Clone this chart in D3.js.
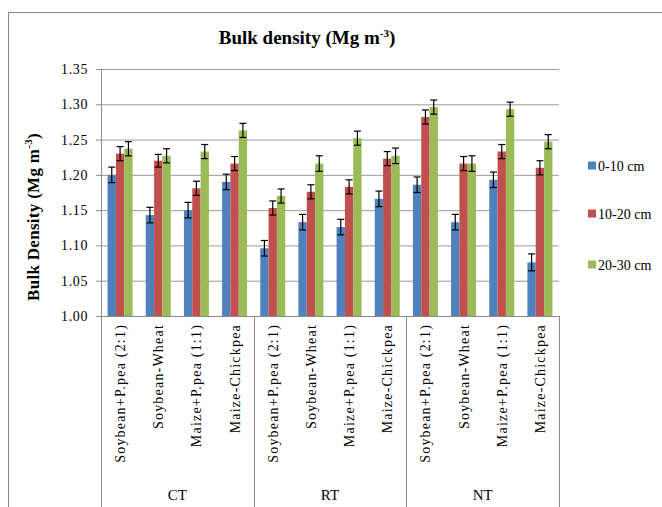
<!DOCTYPE html>
<html>
<head>
<meta charset="utf-8">
<script src="https://cdn.jsdelivr.net/npm/d3@7"></script>
<style>
  body { margin: 0; background: #fff; }
  svg text { font-family: 'Liberation Serif', 'Times New Roman', Tinos, 'DejaVu Serif', serif; fill: #000; }
</style>
</head>
<body>
<svg id="chart" width="662" height="507"></svg>
<script>
const systems = ['CT', 'RT', 'NT'];
const crops = ['Soybean+P.pea (2:1)', 'Soybean-Wheat', 'Maize+P.pea (1:1)', 'Maize-Chickpea'];
const depths = ['0-10 cm', '10-20 cm', '20-30 cm'];
const yTicks = [1.00, 1.05, 1.10, 1.15, 1.20, 1.25, 1.30, 1.35];

// values per depth, in order CT x4, RT x4, NT x4
const depth0to10 = [1.200, 1.143, 1.150, 1.190, 1.096, 1.133, 1.126, 1.166, 1.186, 1.133, 1.193, 1.076];
const depth10to20 = [1.230, 1.220, 1.181, 1.216, 1.153, 1.176, 1.183, 1.223, 1.282, 1.216, 1.233, 1.210];
const depth20to30 = [1.237, 1.227, 1.233, 1.263, 1.170, 1.216, 1.252, 1.227, 1.296, 1.216, 1.293, 1.247];
const err0to10 = [0.011, 0.011, 0.011, 0.011, 0.011, 0.011, 0.011, 0.011, 0.011, 0.011, 0.011, 0.012];
const err10to20 = [0.010, 0.009, 0.010, 0.010, 0.010, 0.010, 0.010, 0.010, 0.010, 0.010, 0.010, 0.010];
const err20to30 = [0.010, 0.010, 0.010, 0.010, 0.010, 0.011, 0.010, 0.011, 0.010, 0.011, 0.010, 0.010];

const colors = ['#4F81BD', '#C0504D', '#9BBB59'];
const series = [depth0to10, depth10to20, depth20to30];
const errors = [err0to10, err10to20, err20to30];

const serif = "'Liberation Serif', 'Times New Roman', Tinos, 'DejaVu Serif', serif";
const plot = { left: 101, right: 559, top: 69, bottom: 316 };
const svg = d3.select('#chart');

// outer chart border
svg.append('path')
    .attr('d', 'M8.5,520 V12.5 H670')
    .attr('fill', 'none')
    .attr('stroke', '#888');

// build flat category list
const cats = [];
systems.forEach((s) => crops.forEach((c) => cats.push(s + '|' + c)));

const x = d3.scaleBand().domain(cats).range([plot.left, plot.right]).padding(0);
const xInner = d3.scaleBand().domain(depths).range([0, 25]);
const y = d3.scaleLinear().domain([1.0, 1.35]).range([plot.bottom, plot.top]);

// gridlines
svg.append('g')
    .attr('transform', 'translate(' + plot.left + ',0)')
    .call(d3.axisLeft(y).tickValues(yTicks).tickSize(-(plot.right - plot.left)).tickFormat(''))
    .call((g) => g.select('.domain').remove())
    .call((g) => g.selectAll('line').attr('stroke', '#9a9a9a'));

// y axis
svg.append('g')
    .attr('transform', 'translate(' + plot.left + ',0)')
    .call(d3.axisLeft(y).tickValues(yTicks).tickSize(5).tickPadding(8).tickFormat(d3.format('.2f')))
    .attr('font-family', serif)
    .attr('font-size', 14)
    .call((g) => g.select('.domain').attr('stroke', '#8c8c8c'))
    .call((g) => g.selectAll('line').attr('stroke', '#8c8c8c'))
    .call((g) => g.selectAll('text').attr('fill', '#000').style('letter-spacing', '0.6px'));

// bars
const barData = [];
series.forEach((vals, si) => vals.forEach((v, i) => barData.push({ cat: cats[i], depth: depths[si], v: v, e: errors[si][i], si: si })));
const off = (x.bandwidth() - 25) / 2;

svg.append('g').selectAll('rect')
    .data(barData)
    .enter()
    .append('rect')
    .attr('x', (d) => x(d.cat) + off + xInner(d.depth))
    .attr('y', (d) => y(d.v))
    .attr('width', xInner.bandwidth())
    .attr('height', (d) => y(1.0) - y(d.v))
    .attr('fill', (d) => colors[d.si]);

// error bars
const eb = svg.append('g').attr('stroke', '#000').attr('stroke-width', 1.2);
barData.forEach((d) => {
    const cx = x(d.cat) + off + xInner(d.depth) + xInner.bandwidth() / 2;
    eb.append('line').attr('x1', cx).attr('x2', cx).attr('y1', y(d.v + d.e)).attr('y2', y(d.v - d.e));
    eb.append('line').attr('x1', cx - 3.5).attr('x2', cx + 3.5).attr('y1', y(d.v + d.e)).attr('y2', y(d.v + d.e));
    eb.append('line').attr('x1', cx - 3.5).attr('x2', cx + 3.5).attr('y1', y(d.v - d.e)).attr('y2', y(d.v - d.e));
});

// x axis baseline and group dividers
svg.append('line')
    .attr('x1', plot.left).attr('x2', plot.right)
    .attr('y1', plot.bottom + 0.5).attr('y2', plot.bottom + 0.5)
    .attr('stroke', '#8c8c8c');
const groupEdges = systems.map((s) => x(s + '|' + crops[0])).concat([plot.right]);
svg.append('g').selectAll('line')
    .data(groupEdges)
    .enter()
    .append('line')
    .attr('x1', (d) => Math.round(d) + 0.5).attr('x2', (d) => Math.round(d) + 0.5)
    .attr('y1', plot.bottom).attr('y2', 507)
    .attr('stroke', '#8c8c8c');

// category labels
svg.append('g').selectAll('text')
    .data(cats)
    .enter()
    .append('text')
    .attr('transform', (d) => 'translate(' + (x(d) + x.bandwidth() / 2 + 5) + ',' + (plot.bottom + 8) + ') rotate(-90)')
    .attr('text-anchor', 'end')
    .attr('font-family', serif)
    .style('font-size', '14px')
    .style('letter-spacing', '1.2px')
    .text((d) => d.split('|')[1]);

// system labels
svg.append('g').selectAll('text')
    .data(systems)
    .enter()
    .append('text')
    .attr('x', (d) => x(d + '|' + crops[1]) + x.bandwidth())
    .attr('y', 500)
    .attr('text-anchor', 'middle')
    .attr('font-family', serif)
    .style('font-size', '15px')
    .text((d) => d);

// title
const title = svg.append('text')
    .attr('x', 307)
    .attr('y', 44)
    .attr('text-anchor', 'middle')
    .attr('font-family', serif)
    .style('font-size', '19px')
    .style('font-weight', 'bold');
title.append('tspan').text('Bulk density (Mg m');
title.append('tspan').attr('dy', -7).style('font-size', '11px').text('-3');
title.append('tspan').attr('dy', 7).text(')');

// y axis title
const yTitle = svg.append('text')
    .attr('transform', 'translate(39,217) rotate(-90)')
    .attr('text-anchor', 'middle')
    .attr('font-family', serif)
    .style('font-size', '17px')
    .style('font-weight', 'bold')
    .style('letter-spacing', '0.3px');
yTitle.append('tspan').text('Bulk Density (Mg m');
yTitle.append('tspan').attr('dy', -7).style('font-size', '11px').text('-3');
yTitle.append('tspan').attr('dy', 7).text(')');

// legend
const legendY = [166, 214, 265];
const legend = svg.append('g').selectAll('g')
    .data(depths)
    .enter()
    .append('g')
    .attr('transform', (d, i) => 'translate(588,' + legendY[i] + ')');
legend.append('rect')
    .attr('x', 0).attr('y', -4.5)
    .attr('width', 8).attr('height', 8)
    .attr('fill', (d, i) => colors[i]);
legend.append('text')
    .attr('x', 10).attr('y', 5)
    .attr('font-family', serif)
    .style('font-size', '14px')
    .text((d) => d);
</script>
</body>
</html>
